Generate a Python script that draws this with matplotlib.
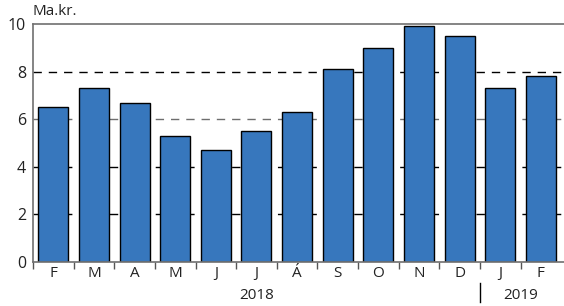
import matplotlib
matplotlib.use("Agg")
import matplotlib.pyplot as plt

# Monthly values, Feb 2018 - Feb 2019 (Ma.kr.)
months = ["F", "M", "A", "M", "J", "J", "Á", "S", "O", "N", "D", "J", "F"]
values = [6.5, 7.3, 6.7, 5.3, 4.7, 5.5, 6.3, 8.1, 9.0, 9.9, 9.5, 7.3, 7.8]
years = ["2018", "2019"]
year_centers = [5.0, 11.5]  # index positions of the year labels
year_split = 10.5

plt.rcParams['font.family'] = ['Open Sans', 'DejaVu Sans']

fig = plt.figure(figsize=(5.64, 3.06), dpi=100)
ax = fig.add_axes([33 / 564, 44 / 306, 531 / 564, 238 / 306])

x = list(range(len(values)))

# dashed reference lines behind the bars
for yv in [2, 4, 6, 8]:
    col = "#6e6e6e" if yv == 6 else "black"
    ax.axhline(yv, color=col, lw=1.0, ls=(0, (6, 5)), zorder=1)

ax.bar(x, values, width=0.74, color="#3777bd", edgecolor="black", linewidth=1.0, zorder=2)

ax.set_xlim(-0.5, 12.57)
ax.set_ylim(0, 10)
ax.set_yticks([0, 2, 4, 6, 8, 10])
ax.tick_params(axis="y", length=0, labelsize=11.5, pad=5, colors="#222222")

# month labels centered under bars, ticks at boundaries
ax.set_xticks(x)
ax.set_xticklabels(months)
ax.tick_params(axis="x", which="major", length=0, labelsize=11, pad=3, colors="#222222")
ax.set_xticks([i - 0.5 for i in range(len(values))], minor=True)
ax.tick_params(axis="x", which="minor", length=5, width=1.0, color="#555555", direction="out")

for s in ["left", "bottom", "top"]:
    ax.spines[s].set_color("#707070")
    ax.spines[s].set_linewidth(1.2)
ax.spines["right"].set_visible(False)

ax.text(0, 1.02, "Ma.kr.", transform=ax.transAxes, fontsize=11, ha="left", va="bottom", color="#222222")

trans = ax.get_xaxis_transform()
for yr, xc in zip(years, year_centers):
    ax.text(xc, -0.14, yr, transform=trans, ha="center", va="center", fontsize=11, color="#222222")
ax.plot([year_split, year_split], [-0.09, -0.17], transform=trans, color="black", lw=1.0, clip_on=False)

fig.savefig("out.png", dpi=100)
